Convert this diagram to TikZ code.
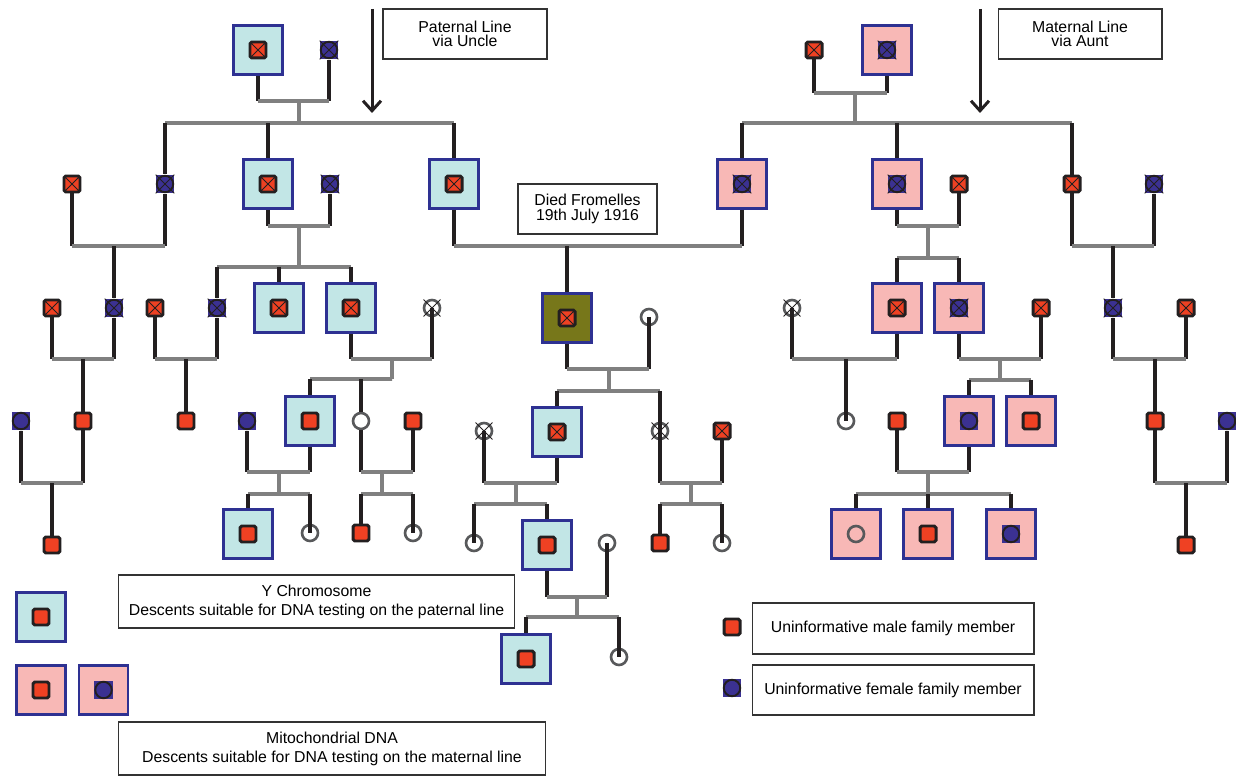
\documentclass[tikz,border=0pt]{standalone}
\usepackage{fontspec}
\setmainfont{Liberation Sans}
\usetikzlibrary{arrows.meta}

\definecolor{kinblack}{HTML}{231F20}
\definecolor{mred}{HTML}{EF4123}
\definecolor{fblue}{HTML}{3B3192}
\definecolor{bborder}{HTML}{2E3192}
\definecolor{ycyan}{HTML}{C2E6E6}
\definecolor{mpink}{HTML}{F8B8B6}
\definecolor{olivefill}{HTML}{77771A}
\definecolor{lineg}{HTML}{808080}
\definecolor{ringg}{HTML}{58595B}

\begin{document}
\begin{tikzpicture}
	% Styles
	[
	x=0.02cm, y=-0.02cm,
	blood/.style={draw=kinblack, line width=2.2pt},
	marr/.style={draw=lineg, line width=2.2pt},
	xline/.style={draw=kinblack, line width=0.5pt},
	dead/.style={append after command={(\tikzlastnode.south west) edge[xline, shorten <=#1, shorten >=#1] (\tikzlastnode.north east) (\tikzlastnode.north west) edge[xline, shorten <=#1, shorten >=#1] (\tikzlastnode.south east)}},
	male/.style={rectangle, rounded corners=1pt, draw=kinblack, fill=mred, line width=1.7pt, minimum size=0.32cm, inner sep=0pt},
	female/.style={rectangle, fill=fblue, minimum size=0.37cm, inner sep=0pt, path picture={\draw[kinblack, line width=1.1pt] (path picture bounding box.center) circle (0.165cm);}},
	unknown/.style={circle, draw=ringg, line width=1.5pt, minimum size=0.32cm, inner sep=0pt},
	mx/.style={male, dead=2.4pt},
	fx/.style={female, dead=0.2pt},
	ux/.style={unknown, dead=-1.5pt},
	cybox/.style={rectangle, draw=bborder, fill=ycyan, line width=1.7pt, minimum size=0.98cm, inner sep=0pt},
	pkbox/.style={cybox, fill=mpink},
	olbox/.style={cybox, fill=olivefill},
	note/.style={rectangle, draw=black!80, line width=0.6pt, align=center, inner sep=0pt, font=\fontsize{9}{8.3}\selectfont},
	keynote/.style={note, font=\fontsize{9}{10.8}\selectfont},
	pointer/.style={draw=kinblack, line width=1.7pt, -{Straight Barb[length=0.2cm, width=0.36cm]}}
	]
	\useasboundingbox (0,0) rectangle (1236,776);

	% Nodes - grandparents
	\node at (258,50)	(pgf)	[cybox] {};
	\node at (pgf)		(pgfi)	[mx] {};
	\node at (329,50)	(pgm)	[fx] {};
	\node at (814,50)	(mgf)	[mx] {};
	\node at (887,50)	(mgm)	[pkbox] {};
	\node at (mgm)		(mgmi)	[fx] {};

	% Nodes - parents, uncles and aunts
	\node at (72,184)	(a1m)	[mx] {};
	\node at (165,184)	(a1)	[fx] {};
	\node at (268,184)	(a2)	[cybox] {};
	\node at (a2)		(a2i)	[mx] {};
	\node at (330,184)	(a2w)	[fx] {};
	\node at (454,184)	(fa)	[cybox] {};
	\node at (fa)		(fai)	[mx] {};
	\node at (742,184)	(mo)	[pkbox] {};
	\node at (mo)		(moi)	[fx] {};
	\node at (897,184)	(b1)	[pkbox] {};
	\node at (b1)		(b1i)	[fx] {};
	\node at (959,184)	(b1h)	[mx] {};
	\node at (1072,184)	(b2)	[mx] {};
	\node at (1154,184)	(b2w)	[fx] {};

	% Nodes - soldier and cousins
	\node at (52,308)	(c1h)	[mx] {};
	\node at (114,308)	(c1)	[fx] {};
	\node at (155,308)	(c2h)	[mx] {};
	\node at (217,308)	(c2)	[fx] {};
	\node at (279,308)	(c3)	[cybox] {};
	\node at (c3)		(c3i)	[mx] {};
	\node at (351,308)	(c4)	[cybox] {};
	\node at (c4)		(c4i)	[mx] {};
	\node at (432,308)	(c4w)	[ux] {};
	\node at (567,318)	(hero)	[olbox] {};
	\node at (hero)		(heroi)	[mx] {};
	\node at (649,317)	(hw)	[unknown] {};
	\node at (792,308)	(c5w)	[ux] {};
	\node at (897,308)	(c5)	[pkbox] {};
	\node at (c5)		(c5i)	[mx] {};
	\node at (959,308)	(c6)	[pkbox] {};
	\node at (c6)		(c6i)	[fx] {};
	\node at (1041,308)	(c6h)	[mx] {};
	\node at (1113,308)	(c7)	[fx] {};
	\node at (1186,308)	(c7h)	[mx] {};

	% Nodes - next generation
	\node at (21,421)	(d1w)	[female] {};
	\node at (83,421)	(d1)	[male] {};
	\node at (186,421)	(d2)	[male] {};
	\node at (247,421)	(d3w)	[female] {};
	\node at (310,421)	(d3)	[cybox] {};
	\node at (d3)		(d3i)	[male] {};
	\node at (361,421)	(d4)	[unknown] {};
	\node at (413,421)	(d4h)	[male] {};
	\node at (484,431)	(e1w)	[ux] {};
	\node at (557,432)	(e1)	[cybox] {};
	\node at (e1)		(e1i)	[mx] {};
	\node at (660,431)	(e2)	[ux] {};
	\node at (722,431)	(e2h)	[mx] {};
	\node at (846,421)	(d5)	[unknown] {};
	\node at (897,421)	(d6)	[male] {};
	\node at (969,421)	(d7)	[pkbox] {};
	\node at (d7)		(d7i)	[female] {};
	\node at (1031,421)	(d8)	[pkbox] {};
	\node at (d8)		(d8i)	[male] {};
	\node at (1155,421)	(d9)	[male] {};
	\node at (1227,421)	(d9w)	[female] {};

	% Nodes - living descendants
	\node at (52,545)	(g1)	[male] {};
	\node at (248,534)	(g2)	[cybox] {};
	\node at (g2)		(g2i)	[male] {};
	\node at (310,533)	(g3)	[unknown] {};
	\node at (361,533)	(g4)	[male] {};
	\node at (413,533)	(g5)	[unknown] {};
	\node at (474,543)	(g6)	[unknown] {};
	\node at (547,545)	(g7)	[cybox] {};
	\node at (g7)		(g7i)	[male] {};
	\node at (607,543)	(g7w)	[unknown] {};
	\node at (660,543)	(g8)	[male] {};
	\node at (722,543)	(g9)	[unknown] {};
	\node at (856,534)	(g10)	[pkbox] {};
	\node at (g10)		(g10i)	[unknown] {};
	\node at (928,534)	(g11)	[pkbox] {};
	\node at (g11)		(g11i)	[male] {};
	\node at (1011,534)	(g12)	[pkbox] {};
	\node at (g12)		(g12i)	[female] {};
	\node at (1186,545)	(g13)	[male] {};
	\node at (526,659)	(h1)	[cybox] {};
	\node at (h1)		(h1i)	[male] {};
	\node at (619,657)	(h2)	[unknown] {};

	% Notes
	\node at (465,34)	(pat)	[note, minimum width=3.28cm, minimum height=1cm] {Paternal Line\\via Uncle};
	\node at (1080,34)	(mat)	[note, minimum width=3.28cm, minimum height=1cm] {Maternal Line\\via Aunt};
	\node at (587.5,209)	(died)	[note, minimum width=2.78cm, minimum height=1cm] {Died Fromelles\\19th July 1916};
	\coordinate (patTop) at (372,9);
	\coordinate (patTip) at (372,113);
	\coordinate (matTop) at (980,9);
	\coordinate (matTip) at (980,113);
	\draw[pointer] (patTop) -- (patTip);
	\draw[pointer] (matTop) -- (matTip);

	% Key
	\node at (41,617)	(k1)	[cybox] {};
	\node at (k1)		(k1i)	[male] {};
	\node at (41,690)	(k2)	[pkbox] {};
	\node at (k2)		(k2i)	[male] {};
	\node at (103.5,690)	(k3)	[pkbox] {};
	\node at (k3)		(k3i)	[female] {};
	\node at (732,627)	(k4)	[male] {};
	\node at (732,688)	(k5)	[female] {};
	\node at (316.5,601.5)	(ychr)	[keynote, minimum width=7.94cm, minimum height=1.06cm] {Y Chromosome\\Descents suitable for DNA testing on the paternal line};
	\node at (332,748.5)	(mito)	[keynote, minimum width=8.56cm, minimum height=1.06cm] {Mitochondrial DNA\\Descents suitable for DNA testing on the maternal line};
	\node at (893,628.5)	(kmale)	[note, minimum width=5.64cm, minimum height=1.02cm] {Uninformative male family member};
	\node at (893,690)	(kfem)	[note, minimum width=5.64cm, minimum height=1cm] {Uninformative female family member};

	% Junctions
	\coordinate (m0p) at (299,101);		\coordinate (s0p) at (299,123);
	\coordinate (m0m) at (855,93);		\coordinate (s0m) at (855,123);
	\coordinate (m1a) at (114,246);
	\coordinate (m1b) at (299,226);		\coordinate (s1b) at (299,267);
	\coordinate (m1c) at (567,246);
	\coordinate (m1d) at (928,226);		\coordinate (s1d) at (928,258);
	\coordinate (m1e) at (1113,246);
	\coordinate (m2a) at (83,359);
	\coordinate (m2b) at (186,359);
	\coordinate (m2c) at (392,359);		\coordinate (s2c) at (392,379);
	\coordinate (m2d) at (609,369);		\coordinate (s2d) at (609,391);
	\coordinate (m2e) at (846,359);
	\coordinate (m2f) at (1000,359);	\coordinate (s2f) at (1000,380);
	\coordinate (m2g) at (1155,359);
	\coordinate (m3a) at (52,483);
	\coordinate (m3b) at (279,472);		\coordinate (s3b) at (279,494);
	\coordinate (m3c) at (382,472);		\coordinate (s3c) at (382,494);
	\coordinate (m3d) at (516,483);		\coordinate (s3d) at (516,504);
	\coordinate (m3e) at (691,483);		\coordinate (s3e) at (691,504);
	\coordinate (m3f) at (928,472);		\coordinate (s3f) at (928,494);
	\coordinate (m3g) at (1186,483);
	\coordinate (m4a) at (577,597);		\coordinate (s4a) at (577,617);

	% Connections - marriages
	\foreach \p/\q/\m in {pgf/pgm/m0p, mgf/mgm/m0m, a1m/a1/m1a, a2/a2w/m1b, fa/mo/m1c,
		b1/b1h/m1d, b2/b2w/m1e, c1h/c1/m2a, c2h/c2/m2b, c4/c4w.center/m2c, hero/hw.center/m2d,
		c5w.center/c5/m2e, c6/c6h/m2f, c7/c7h/m2g, d1w/d1/m3a, d3w/d3/m3b, d4/d4h/m3c,
		e1w.center/e1/m3d, e2.center/e2h/m3e, d6/d7/m3f, d9/d9w/m3g, g7/g7w.center/m4a}{
		\draw[blood] (\p) -- (\p |- \m);
		\draw[blood] (\q) -- (\q |- \m);
		\draw[marr] (\p |- \m) -- (\q |- \m);
	}

	% Connections - sibling lines
	\foreach \m/\s/\a/\b in {m0p/s0p/a1/fa, m0m/s0m/mo/b2, m1b/s1b/c2/c4, m1d/s1d/c5/c6,
		m2c/s2c/d3/d4, m2d/s2d/e1/e2, m2f/s2f/d7/d8, m3b/s3b/g2/g3, m3c/s3c/g4/g5,
		m3d/s3d/g6/g7, m3e/s3e/g8/g9, m3f/s3f/g10/g12, m4a/s4a/h1/h2}{
		\draw[marr] (\m) -- (\s);
		\draw[marr] (\a |- \s) -- (\s) -- (\b |- \s);
	}

	% Connections - children
	\foreach \s/\c in {s0p/a1, s0p/a2, s0p/fa, s0m/mo, s0m/b1, s0m/b2, s1b/c2, s1b/c3, s1b/c4,
		s1d/c5, s1d/c6, s2c/d3, s2c/d4, s2d/e1, s2d/e2.center, s2f/d7, s2f/d8, s3b/g2,
		s3b/g3.center, s3c/g4, s3c/g5.center, s3d/g6.center, s3d/g7, s3e/g8, s3e/g9.center,
		s3f/g10, s3f/g11, s3f/g12, s4a/h1, s4a/h2.center}
		\draw[blood] (\c |- \s) -- (\c);

	% Connections - only children
	\foreach \m/\c in {m1a/c1, m1c/hero, m1e/c7, m2a/d1, m2b/d2, m2e/d5.center, m2g/d9, m3a/g1, m3g/g13}
		\draw[blood] (\m) -- (\c);

\end{tikzpicture}
\end{document}
